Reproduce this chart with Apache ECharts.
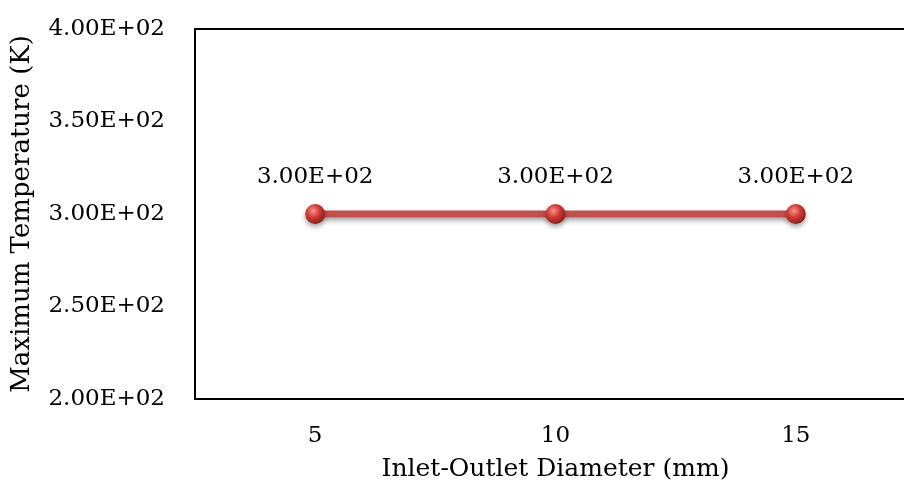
<!DOCTYPE html>
<html>
<head>
<meta charset="utf-8">
<script src="https://cdn.jsdelivr.net/npm/echarts@6/dist/echarts.min.js"></script>
<style>
html,body{margin:0;padding:0;background:#fff;}
#chart{width:904px;height:492px;}
</style>
</head>
<body>
<div id="chart"></div>
<script>
var categories = ['5', '10', '15'];
var maxTemp = [300, 300, 300];
var yTicks = [200, 250, 300, 350, 400];

var font = 'DejaVu Serif';
function sci(v) {
	return Number(v).toExponential(2).replace('e+', 'E+0').toUpperCase();
}

var myChar = echarts.init(document.getElementById('chart'));
var myOption = {
	animation: false,
	grid: {
		left: 195,
		right: -12,//plot runs past the right edge
		top: 29,
		bottom: 93,
		outerBoundsMode: 'none',
		containLabel: false,
		show: true,
		borderColor: '#000',
		borderWidth: 2
	},
	xAxis: {
		type: 'category',
		data: categories,
		boundaryGap: true,
		axisLine: {show: false},
		axisTick: {show: false},
		axisLabel: {color: '#000', fontFamily: font, fontSize: 23, margin: 26},
		name: 'Inlet-Outlet Diameter (mm)',
		nameLocation: 'middle',
		nameGap: 58,
		nameTextStyle: {color: '#000', fontFamily: font, fontSize: 25}
	},
	yAxis: {
		type: 'value',
		min: yTicks[0],
		max: yTicks[yTicks.length - 1],
		interval: 50,
		splitLine: {show: false},
		axisLine: {show: false},
		axisTick: {show: false},
		axisLabel: {
			color: '#000', fontFamily: font, fontSize: 23, margin: 30,
			formatter: function(value) { return sci(value); }
		},
		name: 'Maximum Temperature (K)',
		nameLocation: 'middle',
		nameGap: 160,
		nameTextStyle: {color: '#000', fontFamily: font, fontSize: 26}
	},
	series: [{
		type: 'line',
		data: maxTemp,
		symbol: 'circle',
		symbolSize: 20,
		lineStyle: {
			color: '#c0504d',
			width: 7,
			shadowColor: 'rgba(0,0,0,0.35)',
			shadowBlur: 5,
			shadowOffsetY: 3
		},
		itemStyle: {
			color: new echarts.graphic.RadialGradient(0.4, 0.35, 0.65, [
				{offset: 0, color: '#f29490'},
				{offset: 0.5, color: '#d13a35'},
				{offset: 1, color: '#8e1f1c'}
			]),
			borderWidth: 0,
			shadowColor: 'rgba(0,0,0,0.35)',
			shadowBlur: 5,
			shadowOffsetY: 3
		},
		label: {
			show: true,
			position: 'top',
			distance: 15,
			color: '#000',
			fontFamily: font,
			fontSize: 23,
			formatter: function(p) { return sci(p.value); }
		}
	}]
};
myChar.setOption(myOption);
</script>
</body>
</html>
